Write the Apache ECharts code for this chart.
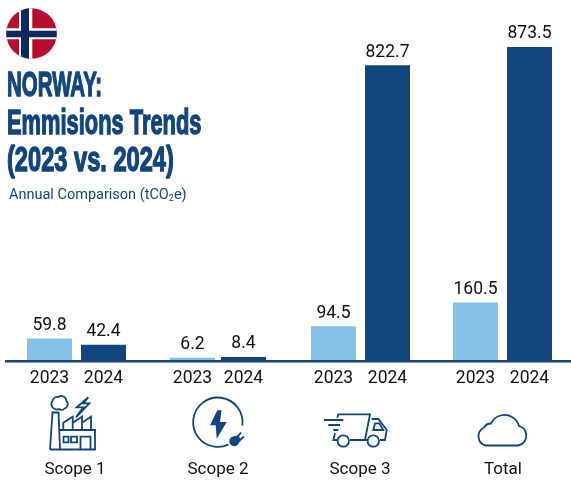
<!DOCTYPE html>
<html>
<head>
<meta charset="utf-8">
<style>
  html, body { margin: 0; padding: 0; background: #fff; }
  #chart { width: 571px; height: 480px; }
</style>
</head>
<body>
<div id="chart"></div>
<script src="https://cdn.jsdelivr.net/npm/echarts@6/dist/echarts.min.js"></script>
<script>
const years = ['2023', '2024']
const scopes = ['Scope 1', 'Scope 2', 'Scope 3', 'Total']
const values2023 = [59.8, 6.2, 94.5, 160.5]
const values2024 = [42.4, 8.4, 822.7, 873.5]

const DARK = '#12457c'
const LIGHT = '#85c1e6'
const FONT = 'Roboto, sans-serif'

// each scope group has its own little grid, they all share one y scale
const groupLeft = [22.5, 167, 306.5, 448.5]
const groupWidth = [108, 102, 108, 108]
const labelCenter = [75, 218, 360, 503]

const chart = echarts.init(document.getElementById('chart'), null, { renderer: 'canvas' })

const grids = [], xAxes = [], yAxes = [], series = []
scopes.forEach((name, i) => {
  grids.push({ left: groupLeft[i], width: groupWidth[i], top: 47, height: 313 })
  xAxes.push({
    type: 'category',
    gridIndex: i,
    data: years,
    axisLine: { show: false },
    axisTick: { show: false },
    axisLabel: { color: '#111', fontFamily: FONT, fontSize: 17.5, margin: 10, interval: 0 }
  })
  yAxes.push({ type: 'value', gridIndex: i, min: 0, max: 873.5, show: false })
  series.push({
    type: 'bar',
    xAxisIndex: i,
    yAxisIndex: i,
    barWidth: 45,
    data: [
      { value: values2023[i], itemStyle: { color: LIGHT } },
      { value: values2024[i], itemStyle: { color: DARK } }
    ],
    label: {
      show: true,
      position: 'top',
      distance: 4,
      color: '#111',
      fontFamily: FONT,
      fontSize: 17.5,
      formatter: p => p.value.toFixed(1)
    }
  })
})

// the graphic component has no plain path type, so register each svg path as a shape
let shapeCount = 0
function pathEl(d, style) {
  const name = 'iconPath' + shapeCount++
  echarts.graphic.registerShape(name, echarts.graphic.extendPath(d, {}))
  return { type: name, style: style }
}

// straight band across the flag circle, its ends follow the circle edge
function chordBand(cx, cy, r, a, b, vertical) {
  const ha = Math.sqrt(r * r - a * a), hb = Math.sqrt(r * r - b * b)
  if (vertical) {
    return `M${cx + a} ${cy - ha}A${r} ${r} 0 0 1 ${cx + b} ${cy - hb}L${cx + b} ${cy + hb}A${r} ${r} 0 0 1 ${cx + a} ${cy + ha}Z`
  }
  return `M${cx - ha} ${cy + a}A${r} ${r} 0 0 0 ${cx - hb} ${cy + b}L${cx + hb} ${cy + b}A${r} ${r} 0 0 0 ${cx + ha} ${cy + a}Z`
}

const flagX = 31.5, flagY = 33.5, flagR = 25.3
const flag = [
  { type: 'circle', shape: { cx: flagX, cy: flagY, r: flagR }, style: { fill: '#b70d2f' } },
  pathEl(chordBand(flagX, flagY, flagR, -12.5, 0.8, true), { fill: '#fff' }),
  pathEl(chordBand(flagX, flagY, flagR, -5.2, 5.8, false), { fill: '#fff' }),
  pathEl(chordBand(flagX, flagY, flagR, -10.5, -2.5, true), { fill: '#0b2a5c' }),
  pathEl(chordBand(flagX, flagY, flagR, -2.8, 3.8, false), { fill: '#0b2a5c' })
]

// no condensed face is installed, so the bold sans gets squeezed to the title widths
function titleLine(text, y, sx) {
  return {
    type: 'text',
    x: 7,
    y: y,
    scaleX: sx,
    style: {
      text: text,
      fill: DARK,
      stroke: DARK,
      lineWidth: 1.4,
      fontFamily: '"Liberation Sans", sans-serif',
      fontWeight: 'bold',
      fontSize: 35,
      verticalAlign: 'middle'
    }
  }
}

const outline = { fill: 'none', stroke: DARK, lineWidth: 1.8 }
const icons = [
  // factory
  'M50 449.5L52.5 412.5L58.5 412.5L60 449.5M60 430L95 430L95 449.5L50 449.5M63.3 430L63.3 422.7L72.7 416.7L72.7 430M72.7 422.7L82 416.7L82 430M82 422.7L91 416.7L91 430',
  'M63.5 436.7h5v5.6h-5zM71 436.7h6v5.6h-6zM80.5 449.5v-12.8h10v12.8',
  'M88.3 397.3L76.7 407.3L83.3 407.3L76 417.3L89.3 403.3L83.3 403.3Z',
  'M55 409a5 5 0 0 1-2.5-8a5 5 0 0 1 6-4a5 5 0 0 1 8 4a4.5 4.5 0 0 1-2 7.5a4 4 0 0 1-5.5 .5a4 4 0 0 1-4 0Z',
  // scope 2 ring and plug prongs
  'M242.3 425.5A24.7 24.7 0 1 0 228.5 444.5',
  'M237.5 437L241 432.5M240 440L244 436.5',
  // truck
  'M337.3 417.7L338.3 414.3L370 414.3L365 440M350 440L368 440M371.7 419L378.3 419L386.7 430L385 440L380 440M335 433.3L333.3 440L338 440',
  'M324 420L343.3 420M328.3 425L340 425M333.3 430L338.3 430M375 423.3L379.3 423.3L383.3 430L373.3 430Z',
  'M349 441A5.7 5.7 0 1 1 337.6 441A5.7 5.7 0 1 1 349 441ZM379 441A5.7 5.7 0 1 1 367.6 441A5.7 5.7 0 1 1 379 441Z',
  // cloud
  'M486 445.5L518 445.5A10 10 0 0 0 519 426A15 15 0 0 0 491 423.5A8 8 0 0 0 484 427.5A9.5 9.5 0 0 0 486 445.5Z'
].map(d => pathEl(d, outline))

const filled = [
  'M217.3 410.3L210 425.3L215.7 425.3L216.7 438.7L226.7 422L220 422L221.5 410.3Z',
  'M234.3 436.3a5 5 0 1 1-.1 0ZM232 437L238.5 435L241 441L238 443Z'
].map(d => pathEl(d, { fill: DARK }))

const option = {
  animation: false,
  backgroundColor: '#fff',
  grid: grids,
  xAxis: xAxes,
  yAxis: yAxes,
  series: series,
  graphic: [
    ...flag,
    titleLine('NORWAY:', 86, 0.585),
    titleLine('Emmisions Trends', 124, 0.625),
    titleLine('(2023 vs. 2024)', 161, 0.675),
    {
      type: 'text',
      x: 9,
      y: 195,
      style: {
        text: '{t|Annual Comparison (tCO}{s|2}{t|e)}',
        rich: {
          t: { fill: DARK, fontFamily: FONT, fontSize: 14.5 },
          s: { fill: DARK, fontFamily: FONT, fontSize: 9, padding: [7, 0, 0, 0] }
        },
        verticalAlign: 'middle'
      }
    },
    {
      type: 'rect',
      z: 10,
      shape: { x: 5, y: 360, width: 566, height: 2.6 },
      style: { fill: DARK }
    },
    ...icons,
    ...filled,
    ...scopes.map((s, i) => ({
      type: 'text',
      x: labelCenter[i],
      y: 470,
      style: {
        text: s,
        fill: '#111',
        fontFamily: FONT,
        fontSize: 17,
        align: 'center',
        verticalAlign: 'middle'
      }
    }))
  ]
}
chart.setOption(option)
</script>
</body>
</html>
